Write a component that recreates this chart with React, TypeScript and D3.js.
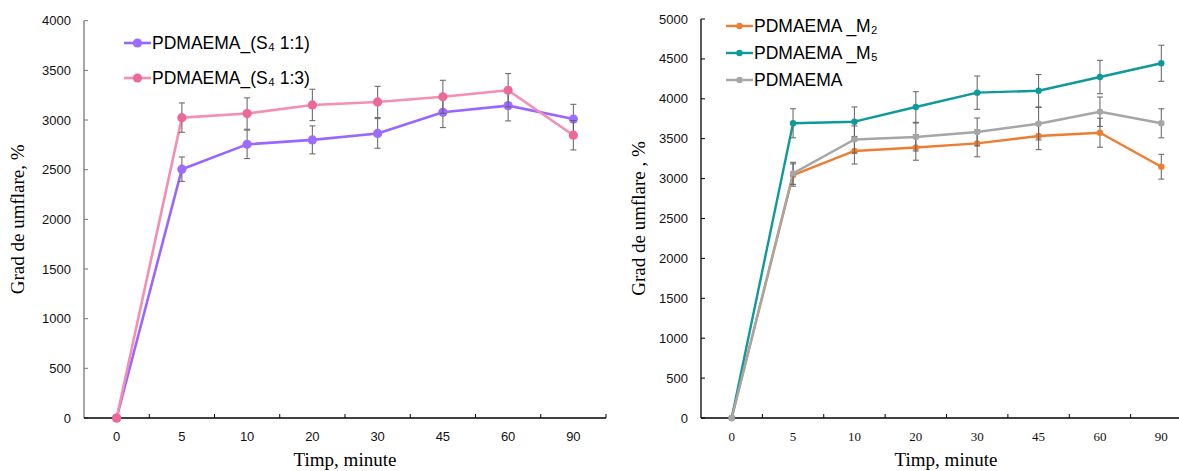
import * as d3 from "d3";

const W = 1179;
const H = 471;

const TIMES = ["0", "5", "10", "20", "30", "45", "60", "90"];

// left panel
const LEFT_TICKS = [0, 500, 1000, 1500, 2000, 2500, 3000, 3500, 4000];
const S4_11 = [0, 2505, 2755, 2800, 2865, 3078, 3145, 3010];
const S4_11_ERR = [0, 123, 143, 141, 149, 154, 154, 148];
const S4_13 = [0, 3024, 3065, 3152, 3182, 3234, 3300, 2847];
const S4_13_ERR = [0, 148, 158, 158, 157, 166, 168, 148];

// right panel
const RIGHT_TICKS = [0, 500, 1000, 1500, 2000, 2500, 3000, 3500, 4000, 4500, 5000];
const M2 = [0, 3045, 3346, 3390, 3442, 3534, 3575, 3149];
const M2_ERR = [0, 140, 163, 160, 169, 171, 182, 155];
const M5 = [0, 3693, 3713, 3897, 4077, 4101, 4273, 4445];
const M5_ERR = [0, 182, 185, 192, 209, 203, 209, 226];
const PLAIN = [0, 3066, 3490, 3521, 3584, 3688, 3838, 3693];
const PLAIN_ERR = [0, 138, 170, 175, 175, 203, 184, 182];

type Series = {
  name: string;
  values: number[];
  err: number[];
  line: string;
  dot: string;
  r: number;
};

const SANS = "'Liberation Sans', Arial, sans-serif";
const SERIF = "'Liberation Serif', 'Times New Roman', serif";

type PanelProps = {
  x0: number;
  x1: number;
  yTop: number;
  yBottom: number;
  yMax: number;
  yTicks: number[];
  series: Series[];
  yAxisColor: string;
  xLabelFont: string;
  yTitle: string;
  yTitleX: number;
  legendX: number;
  legendY: number[];
  lineW: number;
};

function Panel(p: PanelProps) {
  const x = d3.scaleBand<string>().domain(TIMES).range([p.x0, p.x1]);
  const y = d3.scaleLinear().domain([0, p.yMax]).range([p.yBottom, p.yTop]);
  const cx = (t: string) => (x(t) as number) + x.bandwidth() / 2;
  const line = d3
    .line<number>()
    .x((_, i) => cx(TIMES[i]))
    .y((v) => y(v));

  return (
    <g>
      {/* y axis */}
      <line x1={p.x0} x2={p.x0} y1={p.yTop} y2={p.yBottom} stroke={p.yAxisColor} strokeWidth={1.3} />
      {p.yTicks.map((t) => (
        <g key={t}>
          <line x1={p.x0} x2={p.x0 + 4} y1={y(t)} y2={y(t)} stroke={p.yAxisColor} strokeWidth={1} />
          <text x={p.x0 - 13} y={y(t)} dy="0.35em" textAnchor="end" fontFamily={SANS} fontSize={13} fill="#111">
            {t}
          </text>
        </g>
      ))}
      {/* x axis */}
      <line x1={p.x0} x2={p.x1} y1={p.yBottom} y2={p.yBottom} stroke="#000" strokeWidth={1.3} />
      {TIMES.map((t) => (
        <g key={t}>
          <line
            x1={(x(t) as number) + x.bandwidth()}
            x2={(x(t) as number) + x.bandwidth()}
            y1={p.yBottom}
            y2={p.yBottom - 4}
            stroke="#000"
            strokeWidth={1}
          />
          <text x={cx(t)} y={p.yBottom + 23} textAnchor="middle" fontFamily={p.xLabelFont} fontSize={13} fill="#111">
            {t}
          </text>
        </g>
      ))}

      {/* titles */}
      <text
        transform={`translate(${p.yTitleX},${(p.yTop + p.yBottom) / 2}) rotate(-90)`}
        textAnchor="middle"
        fontFamily={SERIF}
        fontSize={19}
        fill="#000"
      >
        {p.yTitle}
      </text>
      <text x={(p.x0 + Math.min(p.x1, W)) / 2 + (p.x1 > W ? 6 : 0)} y={p.yBottom + 48} textAnchor="middle" fontFamily={SERIF} fontSize={19} fill="#000">
        Timp, minute
      </text>

      {/* series */}
      {p.series.map((s) => (
        <g key={s.name}>
          <path d={line(s.values) as string} fill="none" stroke={s.line} strokeWidth={p.lineW} strokeLinejoin="round" />
          {s.values.map((v, i) =>
            s.err[i] > 0 ? (
              <g key={i} stroke="#5f5f5f" strokeWidth={1.1} opacity={0.9}>
                <line x1={cx(TIMES[i])} x2={cx(TIMES[i])} y1={y(v - s.err[i])} y2={y(v + s.err[i])} />
                <line x1={cx(TIMES[i]) - 3} x2={cx(TIMES[i]) + 3} y1={y(v + s.err[i])} y2={y(v + s.err[i])} />
                <line x1={cx(TIMES[i]) - 3} x2={cx(TIMES[i]) + 3} y1={y(v - s.err[i])} y2={y(v - s.err[i])} />
              </g>
            ) : null
          )}
          {s.values.map((v, i) => (
            <circle key={i} cx={cx(TIMES[i])} cy={y(v)} r={s.r} fill={s.dot} />
          ))}
        </g>
      ))}

      {/* legend */}
      {p.series.map((s, i) => (
        <g key={s.name} transform={`translate(${p.legendX},${p.legendY[i]})`}>
          <line x1={0} x2={27} y1={0} y2={0} stroke={s.line} strokeWidth={p.lineW} />
          <circle cx={13.5} cy={0} r={s.r} fill={s.dot} />
          <text x={28} y={0} dy="0.36em" fontFamily={SANS} fontSize={17.5} fill="#000">
            {s.name}
          </text>
        </g>
      ))}
    </g>
  );
}

export default function App() {
  const left: Series[] = [
    { name: "PDMAEMA_(S₄ 1:1)", values: S4_11, err: S4_11_ERR, line: "#9966ff", dot: "#9c6bff", r: 4.6 },
    { name: "PDMAEMA_(S₄  1:3)", values: S4_13, err: S4_13_ERR, line: "#f48fb1", dot: "#ec6895", r: 4.6 },
  ];
  const right: Series[] = [
    { name: "PDMAEMA _M₂", values: M2, err: M2_ERR, line: "#ed7d31", dot: "#ed7d31", r: 3.2 },
    { name: "PDMAEMA _M₅", values: M5, err: M5_ERR, line: "#0e9a9a", dot: "#0e9a9a", r: 3.2 },
    { name: "PDMAEMA", values: PLAIN, err: PLAIN_ERR, line: "#a6a6a6", dot: "#a6a6a6", r: 3.2 },
  ];
  return (
    <div style={{ position: "absolute", left: 0, top: 0 }}>
      <svg width={W} height={H} style={{ display: "block", background: "#fff" }}>
        <Panel
          x0={84}
          x1={606}
          yTop={20.7}
          yBottom={418}
          yMax={4000}
          yTicks={LEFT_TICKS}
          series={left}
          yAxisColor="#777"
          xLabelFont={SANS}
          yTitle="Grad de umflare, %"
          yTitleX={24}
          legendX={124}
          legendY={[43, 78]}
          lineW={2.6}
        />
        <Panel
          x0={701}
          x1={1192}
          yTop={19}
          yBottom={418}
          yMax={5000}
          yTicks={RIGHT_TICKS}
          series={right}
          yAxisColor="#000"
          xLabelFont={SERIF}
          yTitle="Grad de umflare , %"
          yTitleX={645}
          legendX={726}
          legendY={[26, 53, 80]}
          lineW={2.4}
        />
      </svg>
    </div>
  );
}
